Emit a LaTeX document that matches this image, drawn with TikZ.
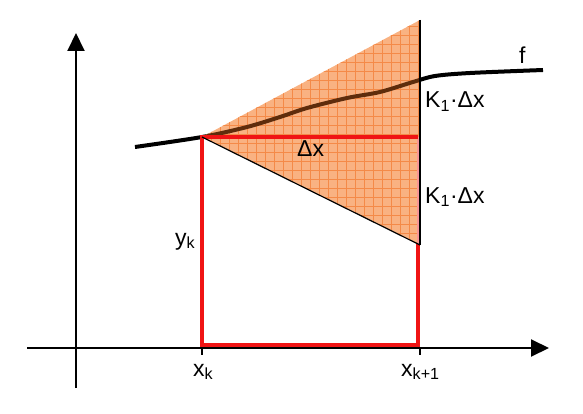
\documentclass[tikz,border=0pt]{standalone}
\usepackage{fontspec}
\setmainfont{Liberation Sans}
\usetikzlibrary{arrows.meta}
\definecolor{redline}{RGB}{240,20,20}
\definecolor{fillbase}{RGB}{249,178,130}
\definecolor{gridc}{RGB}{244,138,72}
\definecolor{brownc}{RGB}{95,45,12}
\tikzset{
  axis/.style={line width=2pt,-{Triangle[length=18pt,width=17pt]}},
  tick/.style={line width=2pt},
  fcurve/.style={line width=4pt},
  redbox/.style={draw=redline,line width=4pt},
  lbl/.style={font=\fontsize{23}{23}\selectfont,inner sep=0pt,anchor=base west}
}
\begin{document}
\begin{tikzpicture}[x=1pt,y=-1pt]
\useasboundingbox (0,0) rectangle (583,414);
% axes
\coordinate (yb) at (76,388);
\coordinate (yt) at (76,33);
\coordinate (xl) at (27,348);
\coordinate (xr) at (549,348);
\draw[axis] (yb) -- (yt);
\draw[axis] (xl) -- (xr);
\coordinate (t1) at (202,348);
\coordinate (t2) at (420,348);
\draw[tick] (t1) -- ++(0,7);
\draw[tick] (t2) -- ++(0,7);
% points
\coordinate (apex) at (202,137);
\coordinate (tr) at (420,20);
\coordinate (br) at (420,245);
\coordinate (rtr) at (418,137);
\coordinate (rbr) at (418,345);
\coordinate (rbl) at (202,345);
% curve f
\def\fpath{plot[smooth,tension=0.5] coordinates {(135,147) (202,137) (247,127) (280,117) (307,108) (347,98) (380,92) (413,82) (435,76) (470,73) (543,70)}}
\draw[fcurve] \fpath;
% red rectangle
\draw[redbox] (apex) -- (rtr) -- (rbr) -- (rbl) -- cycle;
% triangle fill with grid
\begin{scope}
\clip (apex) -- (tr) -- (br) -- cycle;
\fill[fillbase] (apex) -- (tr) -- (br) -- cycle;
\foreach \i in {0,...,25} {
  \draw[gridc,line width=0.6pt] (202+9*\i,15) -- (202+9*\i,250);
}
\foreach \j in {0,...,26} {
  \draw[gridc,line width=0.6pt] (200,17+9*\j) -- (425,17+9*\j);
}
\draw[brownc,line width=4pt] \fpath;
\draw[redline!45,line width=3pt] (rtr) -- (418,250);
\end{scope}
% top red line on top
\draw[draw=redline,line width=4pt] (apex) -- (rtr);
% triangle edges
\draw[line width=1.2pt] (apex) -- (br);
\draw[line width=2.5pt] (tr) -- (br);
% labels
\node[lbl] (lf) at (519,64) {f};
\node[lbl] (lk1) at (425,108) {K\textsubscript{1}·Δx};
\node[lbl] (lk2) at (425,203) {K\textsubscript{1}·Δx};
\node[lbl] (ldx) at (297,157) {Δx};
\node[lbl] (lyk) at (175,245) {y\textsubscript{k}};
\node[lbl] (lxk) at (193,376) {x\textsubscript{k}};
\node[lbl] (lxk1) at (401,376) {x\textsubscript{k+1}};
\end{tikzpicture}
\end{document}
